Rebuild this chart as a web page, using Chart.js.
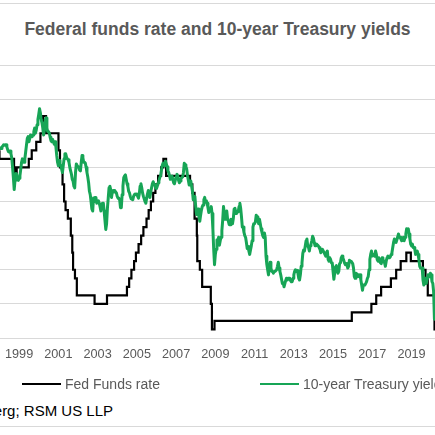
<!doctype html>
<html lang="en">
  <head>
    <meta charset="utf-8">
    <title>Federal funds rate and 10-year Treasury yields</title>
    <script src="https://cdn.jsdelivr.net/npm/chart.js@4.4.1/dist/chart.umd.min.js"></script>
    <style>
      html, body { margin: 0; padding: 0; background: #fff; }
      body { width: 435px; height: 435px; overflow: hidden; position: relative; font-family: "Liberation Sans", Arial, sans-serif; }
      .frame-line { position: absolute; left: 0; width: 435px; height: 0; border-top: 1px solid #d9d9d9; }
      #title { position: absolute; left: 0; width: 435px; top: 19px; text-align: center; font-size: 17.5px; font-weight: bold; color: #595959; white-space: nowrap; }
      #chart-box { position: absolute; left: -4px; top: 0; width: 444px; height: 380px; }
      .legend-item { position: absolute; top: 376px; height: 16px; display: flex; align-items: center; white-space: nowrap; font-size: 14px; color: #595959; }
      .legend-item span.swatch { display: inline-block; width: 39px; height: 0; margin-right: 4px; }
      #source { position: absolute; right: 322px; top: 402px; font-size: 15px; color: #000; white-space: nowrap; }
    </style>
  </head>
  <body>
    <div class="frame-line" style="top:3px"></div>
    <div id="title">Federal funds rate and 10-year Treasury yields</div>
    <div id="chart-box"><canvas id="chart"></canvas></div>
    <div id="legend"></div>
    <div id="source">Source: Bloomberg; RSM US LLP</div>
    <div class="frame-line" style="top:426px"></div>
    <script>
      // x-axis labels (year starts)
      const tickYears = [1999, 2001, 2003, 2005, 2007, 2009, 2011, 2013, 2015, 2017, 2019];

      // Fed funds target (upper bound), value from each change date
      const fedChangeDates = ['1998-01-01','1998-09-29','1998-10-15','1998-11-17',
        '1999-06-30','1999-08-24','1999-11-16',
        '2000-02-02','2000-03-21','2000-05-16',
        '2001-01-03','2001-01-31','2001-03-20','2001-04-18','2001-05-15','2001-06-27','2001-08-21','2001-09-17','2001-10-02','2001-11-06','2001-12-11',
        '2002-11-06','2003-06-25',
        '2004-06-30','2004-08-10','2004-09-21','2004-11-10','2004-12-14',
        '2005-02-02','2005-03-22','2005-05-03','2005-06-30','2005-08-09','2005-09-20','2005-11-01','2005-12-13',
        '2006-01-31','2006-03-28','2006-05-10','2006-06-29',
        '2007-09-18','2007-10-31','2007-12-11',
        '2008-01-22','2008-01-30','2008-03-18','2008-04-30','2008-10-08','2008-10-29','2008-12-16',
        '2015-12-16','2016-12-14',
        '2017-03-15','2017-06-14','2017-12-13',
        '2018-03-21','2018-06-13','2018-09-26','2018-12-19',
        '2019-07-31','2019-09-18','2019-10-30',
        '2020-03-03','2020-03-15','2020-03-31'];
      const fedRates = [5.5, 5.25, 5.0, 4.75,
        5.0, 5.25, 5.5,
        5.75, 6.0, 6.5,
        6.0, 5.5, 5.0, 4.5, 4.0, 3.75, 3.5, 3.0, 2.5, 2.0, 1.75,
        1.25, 1.0,
        1.25, 1.5, 1.75, 2.0, 2.25,
        2.5, 2.75, 3.0, 3.25, 3.5, 3.75, 4.0, 4.25,
        4.5, 4.75, 5.0, 5.25,
        4.75, 4.5, 4.25,
        3.5, 3.0, 2.25, 2.0, 1.5, 1.0, 0.25,
        0.5, 0.75,
        1.0, 1.25, 1.5,
        1.75, 2.0, 2.25, 2.5,
        2.25, 2.0, 1.75,
        1.25, 0.25, 0.25];

      // 10-year Treasury yield, two readings per month (1st half, 2nd half)
      const tsy1998 = [5.60,5.55, 5.55,5.60, 5.62,5.66, 5.65,5.66, 5.66,5.60, 5.52,5.46, 5.45,5.48, 5.40,5.28, 5.00,4.70, 4.35,4.62, 4.82,4.80, 4.65,4.62];
      const tsy1999 = [4.68,4.75, 4.95,5.15, 5.25,5.20, 5.15,5.25, 5.45,5.65, 5.85,5.90, 5.75,5.85, 5.95,5.90, 5.90,5.95, 6.05,6.15, 6.00,6.10, 6.25,6.40];
      const tsy2000 = [6.55,6.72, 6.60,6.40, 6.30,6.15, 5.95,6.10, 6.40,6.45, 6.15,6.05, 6.05,6.00, 5.88,5.78, 5.75,5.82, 5.75,5.68, 5.75,5.60, 5.35,5.15];
      const tsy2001 = [5.05,5.20, 5.10,5.05, 4.95,4.85, 5.05,5.25, 5.40,5.40, 5.30,5.25, 5.22,5.15, 5.00,4.90, 4.80,4.65, 4.60,4.45, 4.40,4.85, 5.10,5.05];
      const tsy2002 = [5.05,5.00, 4.92,4.90, 5.15,5.35, 5.28,5.15, 5.15,5.12, 5.00,4.85, 4.72,4.55, 4.30,4.20, 4.00,3.78, 3.72,4.10, 4.00,4.12, 4.10,3.95];
      const tsy2003 = [4.00,4.02, 3.95,3.85, 3.72,3.92, 3.95,3.95, 3.72,3.45, 3.18,3.35, 3.80,4.10, 4.40,4.45, 4.35,4.12, 4.28,4.32, 4.28,4.32, 4.28,4.25];
      const tsy2004 = [4.15,4.10, 4.08,4.05, 3.82,3.82, 4.20,4.45, 4.70,4.75, 4.78,4.65, 4.52,4.45, 4.30,4.25, 4.15,4.08, 4.08,4.05, 4.15,4.20, 4.22,4.20];
      const tsy2005 = [4.22,4.15, 4.10,4.22, 4.45,4.52, 4.40,4.25, 4.15,4.08, 4.00,3.95, 4.10,4.22, 4.32,4.20, 4.12,4.28, 4.40,4.52, 4.58,4.50, 4.48,4.40];
      const tsy2006 = [4.38,4.45, 4.55,4.60, 4.70,4.75, 4.90,5.05, 5.12,5.08, 5.05,5.18, 5.10,5.02, 4.90,4.85, 4.75,4.65, 4.72,4.75, 4.65,4.55, 4.52,4.62];
      const tsy2007 = [4.72,4.80, 4.75,4.62, 4.55,4.60, 4.68,4.70, 4.72,4.85, 5.12,5.08, 5.02,4.95, 4.75,4.62, 4.48,4.60, 4.60,4.45, 4.30,4.05, 4.10,4.15];
      const tsy2008 = [3.85,3.62, 3.70,3.78, 3.55,3.42, 3.60,3.75, 3.85,3.90, 4.05,4.12, 3.98,4.02, 3.95,3.82, 3.68,3.75, 3.75,3.85, 3.65,3.20, 2.60,2.15];
      const tsy2009 = [2.45,2.60, 2.88,2.82, 2.95,2.72, 2.85,2.95, 3.15,3.45, 3.85,3.65, 3.48,3.62, 3.72,3.48, 3.42,3.32, 3.32,3.48, 3.40,3.35, 3.50,3.78];
      const tsy2010 = [3.80,3.65, 3.65,3.72, 3.70,3.85, 3.95,3.80, 3.55,3.25, 3.25,3.10, 3.00,2.95, 2.80,2.62, 2.68,2.55, 2.45,2.58, 2.70,2.85, 3.25,3.35];
      const tsy2011 = [3.35,3.40, 3.60,3.55, 3.45,3.35, 3.48,3.35, 3.20,3.10, 3.00,2.95, 3.08,2.95, 2.40,2.15, 2.00,1.85, 2.08,2.22, 2.05,1.95, 1.95,1.90];
      const tsy2012 = [1.95,1.95, 1.95,2.00, 2.10,2.22, 2.05,1.95, 1.85,1.72, 1.60,1.62, 1.50,1.50, 1.68,1.75, 1.70,1.75, 1.75,1.75, 1.68,1.65, 1.65,1.75];
      const tsy2013 = [1.85,1.95, 2.00,1.95, 1.98,1.90, 1.75,1.70, 1.85,2.10, 2.20,2.48, 2.58,2.55, 2.70,2.85, 2.90,2.70, 2.65,2.55, 2.70,2.75, 2.85,2.98];
      const tsy2014 = [2.92,2.80, 2.70,2.72, 2.75,2.72, 2.70,2.65, 2.60,2.50, 2.58,2.60, 2.55,2.50, 2.45,2.40, 2.50,2.55, 2.30,2.25, 2.35,2.30, 2.20,2.20];
      const tsy2015 = [1.95,1.72, 1.90,2.08, 2.12,1.95, 1.90,1.95, 2.18,2.20, 2.35,2.40, 2.35,2.28, 2.20,2.15, 2.18,2.15, 2.05,2.10, 2.28,2.25, 2.25,2.25];
      const tsy2016 = [2.18,2.05, 1.80,1.75, 1.90,1.88, 1.80,1.85, 1.80,1.85, 1.70,1.55, 1.40,1.55, 1.55,1.56, 1.60,1.65, 1.75,1.80, 2.00,2.30, 2.45,2.55];
      const tsy2017 = [2.40,2.45, 2.45,2.40, 2.55,2.45, 2.30,2.25, 2.35,2.25, 2.20,2.18, 2.35,2.30, 2.25,2.20, 2.10,2.25, 2.35,2.40, 2.35,2.35, 2.38,2.45];
      const tsy2018 = [2.50,2.65, 2.80,2.90, 2.85,2.80, 2.80,2.95, 3.05,2.95, 2.95,2.90, 2.85,2.90, 2.95,2.85, 2.95,3.05, 3.20,3.15, 3.20,3.05, 2.90,2.75];
      const tsy2019 = [2.70,2.75, 2.65,2.65, 2.60,2.45, 2.50,2.55, 2.45,2.30, 2.10,2.05, 2.05,2.05, 1.70,1.55, 1.65,1.75, 1.60,1.75, 1.85,1.80, 1.80,1.90];
      const tsy2020 = [1.85,1.65, 1.60,1.35, 0.55,0.85];
      const tsyYears = [1998,1999,2000,2001,2002,2003,2004,2005,2006,2007,2008,2009,2010,2011,2012,2013,2014,2015,2016,2017,2018,2019,2020];
      const tsyByYear = [tsy1998,tsy1999,tsy2000,tsy2001,tsy2002,tsy2003,tsy2004,tsy2005,tsy2006,tsy2007,tsy2008,tsy2009,tsy2010,tsy2011,tsy2012,tsy2013,tsy2014,tsy2015,tsy2016,tsy2017,tsy2018,tsy2019,tsy2020];

      const toYear = (s) => {
        const [y, m, d] = s.split('-').map(Number);
        return y + (Date.UTC(y, m - 1, d) - Date.UTC(y, 0, 1)) / (365.25 * 864e5);
      };

      const fedPoints = fedChangeDates.map((d, i) => ({ x: toYear(d), y: fedRates[i] }));
      const tsyPoints = [];
      tsyByYear.forEach((vals, yi) => {
        vals.forEach((v, k) => tsyPoints.push({ x: tsyYears[yi] + k / 24, y: v }));
      });

      const ctx = document.getElementById('chart').getContext('2d');
      const myChart = new Chart(ctx, {
        type: 'line',
        data: {
          datasets: [
            {
              label: 'Fed Funds rate',
              data: fedPoints,
              borderColor: '#000000',
              borderWidth: 2.2,
              stepped: 'after',
              pointRadius: 0,
              order: 2
            },
            {
              label: '10-year Treasury yields',
              data: tsyPoints,
              borderColor: '#17a556',
              borderWidth: 3,
              borderJoinStyle: 'round',
              tension: 0,
              pointRadius: 0,
              order: 1
            }
          ]
        },
        options: {
          responsive: true,
          maintainAspectRatio: false,
          animation: false,
          layout: { padding: { top: 65, bottom: 0, left: 0, right: 0 } },
          plugins: {
            legend: { display: false },
            tooltip: { enabled: false }
          },
          scales: {
            x: {
              type: 'linear',
              min: 1998,
              max: 2020.45,
              grid: { display: false, drawTicks: false },
              border: { display: false },
              afterBuildTicks: (scale) => { scale.ticks = tickYears.map(v => ({ value: v })); },
              afterFit: (scale) => { scale.height = 42; },
              ticks: {
                autoSkip: false,
                maxRotation: 0,
                padding: 9,
                color: '#595959',
                font: { family: 'Liberation Sans', size: 12.7 },
                callback: (v) => String(v)
              }
            },
            y: {
              min: 0,
              max: 8,
              ticks: { display: false, stepSize: 1 },
              grid: { color: '#d9d9d9', lineWidth: 1, drawTicks: false },
              border: { display: false },
              afterFit: (scale) => { scale.width = 0; }
            }
          }
        }
      });

      // legend built from the chart's own datasets
      const legendLeft = ['22px', '260px'];
      const legend = document.getElementById('legend');
      myChart.data.datasets.forEach((ds, i) => {
        const item = document.createElement('div');
        item.className = 'legend-item';
        item.style.left = legendLeft[i];
        const sw = document.createElement('span');
        sw.className = 'swatch';
        sw.style.borderTop = '2.5px solid ' + ds.borderColor;
        item.appendChild(sw);
        item.appendChild(document.createTextNode(ds.label));
        legend.appendChild(item);
      });
    </script>
  </body>
</html>
